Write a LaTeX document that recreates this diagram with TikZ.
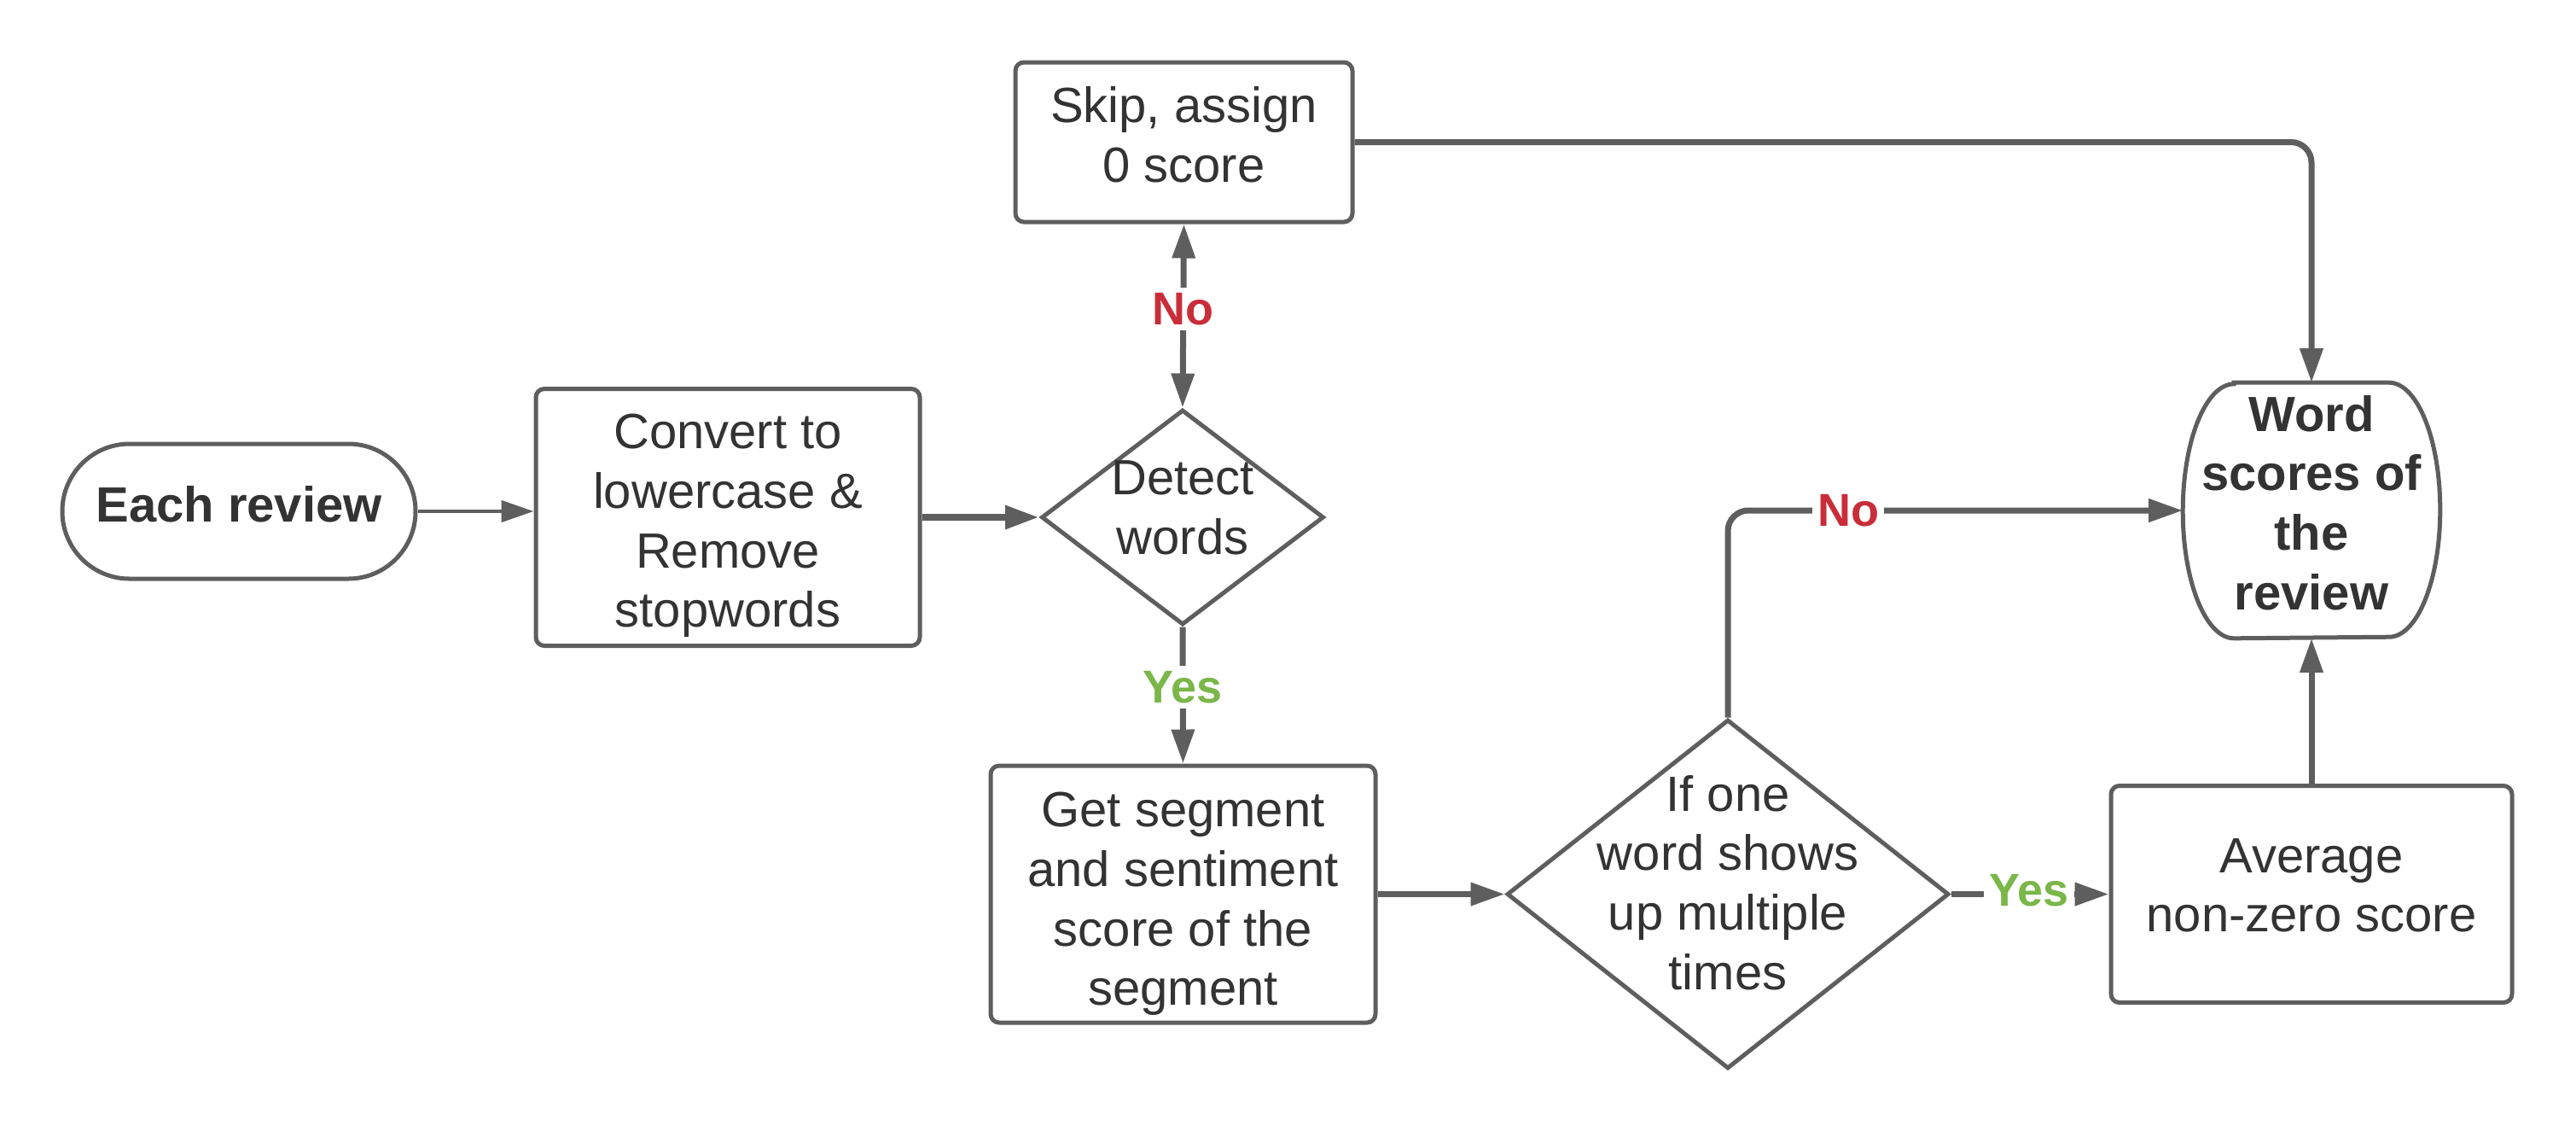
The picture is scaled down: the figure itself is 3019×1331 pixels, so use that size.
\documentclass[tikz,border=0pt]{standalone}
\usepackage{fontspec}
\setmainfont{Liberation Sans}
\usetikzlibrary{arrows.meta,shapes.geometric}
\definecolor{ln}{HTML}{5E5E5E}
\definecolor{tx}{HTML}{333333}
\definecolor{nored}{HTML}{C92D39}
\definecolor{yesgreen}{HTML}{7AB648}
\begin{document}
\begin{tikzpicture}[x=0.25pt,y=-0.25pt,
  mainfont/.style={font=\fontsize{14.5}{17.4}\selectfont},
  boldfont/.style={font=\bfseries\fontsize{14.5}{17.4}\selectfont},
  box/.style={draw=ln, line width=1.25pt, rounded corners=2.5pt, fill=white, inner sep=0pt},
  dia/.style={diamond, draw=ln, line width=1.25pt, inner sep=0pt, fill=white},
  txt/.style={text=tx, align=center, mainfont, inner sep=0pt},
  conn/.style={draw=ln, line width=1.75pt, -{Triangle[length=10pt,width=6.5pt]}},
  lab/.style={font=\bfseries\fontsize{13.5}{16}\selectfont, fill=white, inner sep=1.5pt}
]
\useasboundingbox (0,0) rectangle (3019,1331);

% shapes
\node[box, rounded corners=19.7pt, minimum width=103.5pt, minimum height=39.5pt] (each) at (280,599) {};
\node[box, minimum width=112.5pt, minimum height=75.25pt] (convert) at (853,606) {};
\node[dia, minimum width=82.75pt, minimum height=63pt] (detect) at (1386,606) {};
\node[box, minimum width=98.75pt, minimum height=46.75pt] (skip) at (1387.5,166.5) {};
\node[box, minimum width=112.75pt, minimum height=75.25pt] (getseg) at (1386.5,1047.5) {};
\node[dia, minimum width=129.5pt, minimum height=102.25pt] (ifone) at (2025,1047.5) {};
\node[box, minimum width=117.5pt, minimum height=63.5pt] (average) at (2709,1047.5) {};
\node[inner sep=0pt, minimum width=75pt, minimum height=74.5pt] (words) at (2709,598) {};
\draw[draw=ln, line width=1.25pt] ([xshift=15pt]words.north west) -- ([xshift=-15pt]words.north east)
  arc[start angle=90, end angle=-90, x radius=15pt, y radius=37.25pt]
  -- ([xshift=15pt]words.south west)
  arc[start angle=270, end angle=90, x radius=15pt, y radius=37.25pt] -- cycle;

% texts
\node[txt, boldfont] (eachtxt) at (280,591) {Each review};
\node[txt] (converttxt) at (853,616) {Convert to\\lowercase \&\\Remove\\stopwords};
\node[txt] (detecttxt) at (1386,595) {Detect\\words};
\node[txt] (skiptxt) at (1387.5,157.5) {Skip, assign\\0 score};
\node[txt] (getsegtxt) at (1386.5,1059) {Get segment\\and sentiment\\score of the\\segment};
\node[txt] (ifonetxt) at (2025,1034) {If one\\word shows\\up multiple\\times};
\node[txt] (averagetxt) at (2709,1037.5) {Average\\non-zero score};
\node[txt, boldfont] (wordstxt) at (2709,589) {Word\\scores of\\the\\review};

% connectors
\draw[conn, line width=1.1pt, -{Triangle[length=9.5pt,width=6.25pt]}] (each.east) -- (each.east -| convert.west);
\draw[conn, line width=2.2pt] (convert.east) -- (detect.west);
\draw[conn, {Triangle[length=10pt,width=6.5pt]}-{Triangle[length=10pt,width=6.5pt]}] (detect.north) -- (skip.south);
\node[lab, text=nored] (no1) at (1386,362) {No};
\draw[conn] (detect.south) -- (getseg.north);
\node[lab, text=yesgreen] (yes1) at (1386,805) {Yes};
\draw[conn] (getseg.east) -- (ifone.west);
\draw[conn] (ifone.east) -- (average.west);
\node[lab, text=yesgreen] (yes2) at (2378,1043) {Yes};
\draw[conn, rounded corners=6pt] (ifone.north) |- (words.west);
\node[lab, text=nored] (no2) at (2166,598) {No};
\draw[conn, rounded corners=6pt] (skip.east) -| (words.north);
\draw[conn] (average.north) -- (words.south);
\end{tikzpicture}
\end{document}
